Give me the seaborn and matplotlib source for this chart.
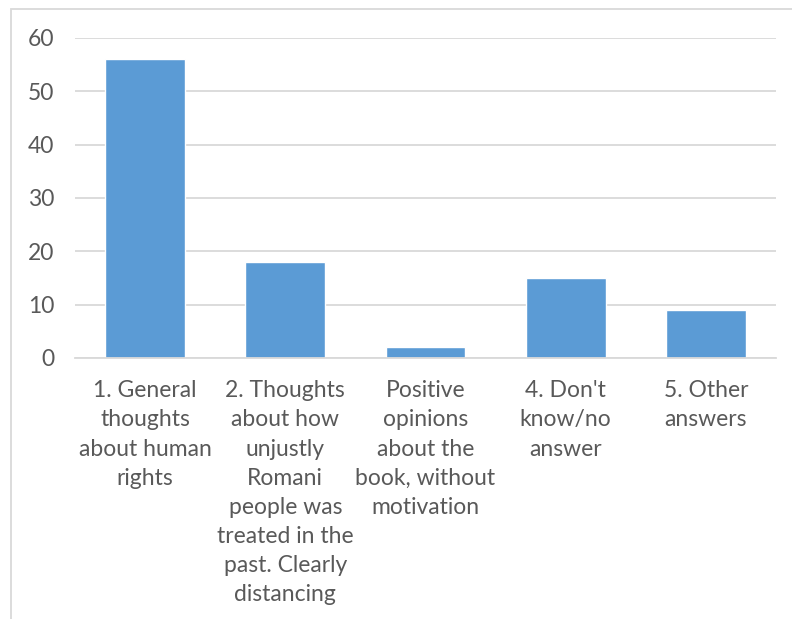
import pandas as pd
import matplotlib.pyplot as plt
import seaborn as sns
from matplotlib.patches import Rectangle

categories = [
    "1. General\nthoughts\nabout human\nrights",
    "2. Thoughts\nabout how\nunjustly\nRomani\npeople was\ntreated in the\npast. Clearly\ndistancing",
    "Positive\nopinions\nabout the\nbook, without\nmotivation",
    "4. Don't\nknow/no\nanswer",
    "5. Other\nanswers",
]
values = [56, 18, 2, 15, 9]

df = pd.DataFrame({'category': categories, 'value': values})

sns.set_style('white')
plt.rcParams['font.family'] = ['Lato', 'DejaVu Sans']

text_color = '#595959'
grid_color = '#d9d9d9'

fig = plt.figure(figsize=(7.92, 6.19), dpi=100)
ax = fig.add_axes([75 / 792, 1 - 358 / 619, (776 - 75) / 792, (358 - 38) / 619])

sns.barplot(data=df, x='category', y='value', color='#5b9bd5', width=0.57,
            saturation=1, ax=ax, zorder=3)

ax.set_ylim(0, 60)
ax.set_yticks(range(0, 61, 10))
ax.yaxis.grid(True, color=grid_color, linewidth=1.3, zorder=0)
ax.set_axisbelow(True)
for s in ['top', 'right', 'left']:
    ax.spines[s].set_visible(False)
ax.spines['bottom'].set_color(grid_color)
ax.spines['bottom'].set_linewidth(1.3)
ax.spines['bottom'].set_zorder(4)
ax.tick_params(axis='both', length=0, labelsize=16.5, colors=text_color)
ax.tick_params(axis='y', pad=15)
ax.tick_params(axis='x', pad=16)
for lbl in ax.get_xticklabels():
    lbl.set_linespacing(1.48)
ax.set_xlabel('')
ax.set_ylabel('')

# chart area border (cropped at right and bottom)
fig.patches.append(Rectangle((11 / 792, -0.1), 1.1, (619 - 9) / 619 + 0.1,
                             transform=fig.transFigure, fill=False,
                             edgecolor=grid_color, linewidth=1.3))

fig.savefig('out.png', dpi=100)
